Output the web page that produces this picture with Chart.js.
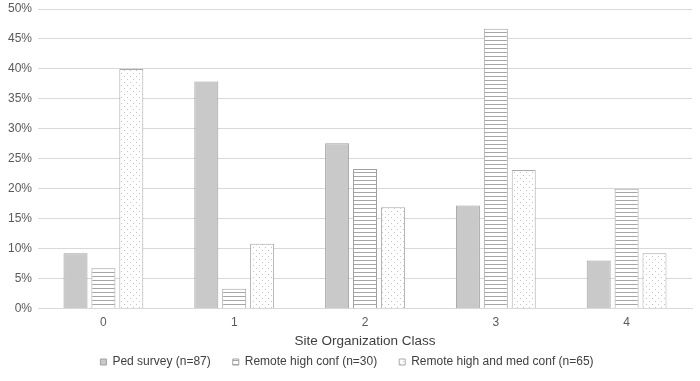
<!DOCTYPE html>
<html>
<head>
<meta charset="utf-8">
<script src="https://cdn.jsdelivr.net/npm/chart.js@4"></script>
<style>
  html, body { margin: 0; padding: 0; background: #fff; }
  #wrap { width: 700px; height: 381px; }
</style>
</head>
<body>
<div id="wrap"><canvas id="myChart"></canvas></div>
<script>
// Data
const categories = ["0", "1", "2", "3", "4"];
const ped_survey = [9.2, 37.9, 27.6, 17.2, 8.0];
const remote_high = [6.7, 3.3, 23.3, 46.7, 20.0];
const remote_high_med = [40.0, 10.8, 16.9, 23.1, 9.2];
const series_labels = [
  "Ped survey (n=87)",
  "Remote high conf (n=30)",
  "Remote high and med conf (n=65)"
];

// Patterns
function stripePattern() {
  const c = document.createElement("canvas");
  c.width = 4;
  c.height = 4;
  const g = c.getContext("2d");
  g.fillStyle = "#ffffff";
  g.fillRect(0, 0, 4, 4);
  g.fillStyle = "#a6a6a6";
  g.fillRect(0, 0, 4, 1);
  return g.createPattern(c, "repeat");
}

function dotPattern() {
  const c = document.createElement("canvas");
  c.width = 6;
  c.height = 6;
  const g = c.getContext("2d");
  g.fillStyle = "#ffffff";
  g.fillRect(0, 0, 6, 6);
  g.fillStyle = "#c4c4c4";
  g.fillRect(1, 1, 1, 1);
  g.fillRect(4, 4, 1, 1);
  return g.createPattern(c, "repeat");
}

const ctx = document.getElementById("myChart").getContext("2d");
Chart.defaults.font.family = "'Liberation Sans', Arial, sans-serif";
Chart.defaults.color = "#595959";

const myChart = new Chart(ctx, {
  type: "bar",
  data: {
    labels: categories,
    datasets: [
      {
        label: series_labels[0],
        data: ped_survey,
        backgroundColor: "#c9c9c9",
        borderColor: "#a0a0a0",
        borderWidth: 1
      },
      {
        label: series_labels[1],
        data: remote_high,
        backgroundColor: stripePattern(),
        borderColor: "#a0a0a0",
        borderWidth: 1
      },
      {
        label: series_labels[2],
        data: remote_high_med,
        backgroundColor: dotPattern(),
        borderColor: "#a8a8a8",
        borderWidth: 1
      }
    ]
  },
  options: {
    responsive: true,
    maintainAspectRatio: false,
    animation: false,
    layout: { padding: { left: 2, right: 8, top: 0, bottom: 3 } },
    datasets: {
      bar: { categoryPercentage: 0.64, barPercentage: 0.86 }
    },
    scales: {
      x: {
        grid: { display: false, drawTicks: false },
        border: { color: "#d9d9d9" },
        ticks: { font: { size: 12 }, color: "#595959", padding: 7 },
        title: {
          display: true,
          text: "Site Organization Class",
          font: { size: 13.5 },
          color: "#404040",
          padding: { top: -4, bottom: -15 }
        }
      },
      y: {
        min: 0,
        max: 50,
        grid: { color: "#d9d9d9", drawTicks: false },
        border: { display: false },
        afterFit: (scale) => {
          scale.paddingTop = 9;
        },
        ticks: {
          stepSize: 5,
          font: { size: 12 },
          color: "#595959",
          padding: 6,
          callback: (v) => v + "%"
        }
      }
    },
    plugins: {
      legend: {
        position: "bottom",
        labels: {
          boxWidth: 6,
          boxHeight: 6,
          padding: 22,
          font: { size: 12 },
          color: "#404040"
        }
      },
      tooltip: { enabled: false }
    }
  }
});
</script>
</body>
</html>
